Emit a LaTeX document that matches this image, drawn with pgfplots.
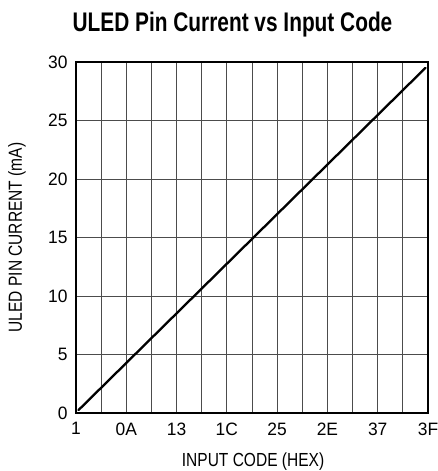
\documentclass[border=0pt]{standalone}
\usepackage{fontspec}
\setmainfont{Liberation Sans}[FakeStretch=0.82]
\newfontfamily\tickfont{Liberation Sans}[FakeStretch=0.97]
\newfontfamily\titlefont{Liberation Sans}[FakeStretch=0.775]
\usepackage{pgfplots}
\pgfplotsset{compat=1.18}
\begin{document}
\begin{tikzpicture}
\useasboundingbox (-76bp,-58bp) rectangle (362bp,413bp);
\begin{axis}[
  at={(0,0)}, anchor=south west,
  width=352bp, height=351bp, scale only axis,
  xmin=0, xmax=14, ymin=0, ymax=30,
  xtick={0,2,...,14},
  xticklabels={1,0A,13,1C,25,2E,37,3F},
  minor xtick={1,3,...,13},
  ytick={0,5,...,30},
  grid=both,
  major grid style={black!70, line width=0.8bp},
  minor grid style={black!70, line width=0.8bp},
  axis line style={black, line width=1.2bp},
  tick style={draw=none},
  /pgf/number format/assume math mode=true,
  ticklabel style={font=\tickfont\fontsize{18}{18}\selectfont},
  xticklabel style={yshift=-6bp},
  yticklabel style={xshift=-5bp},
  xlabel={INPUT CODE (HEX)},
  ylabel={ULED PIN CURRENT (mA)},
  label style={font=\fontsize{19}{19}\selectfont},
  xlabel style={at={(axis description cs:0.503,-0.151)}, anchor=base},
  ylabel style={at={(axis description cs:-0.168,0.5)}, anchor=center},
]
\addplot[black, line width=2.3bp, line cap=round] coordinates {(0.1,0.25) (13.9,29.5)};
\end{axis}
\node[anchor=base, font=\titlefont\bfseries\fontsize{27}{27}\selectfont] at (156.5bp,381bp) {ULED Pin Current vs Input Code};
\end{tikzpicture}
\end{document}
